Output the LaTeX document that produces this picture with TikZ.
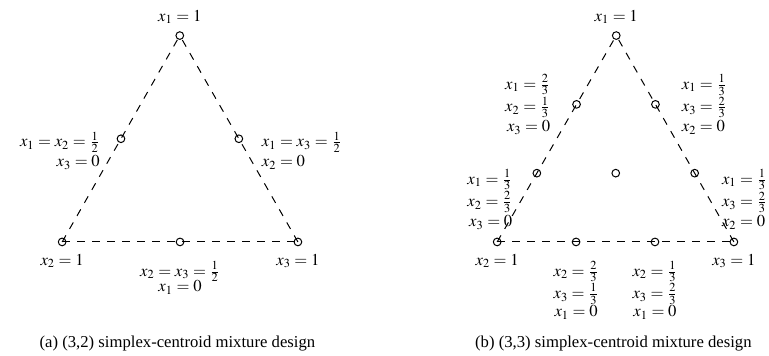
\documentclass[tikz,border=0pt]{standalone}
\usepackage{mathptmx}
\usepackage{fontspec}
\setmainfont{Liberation Serif}
\usetikzlibrary{calc}

\begin{document}
\begin{tikzpicture}[
    % Core styles: thin dashed sides, small open design points
    side/.style={line width=0.6pt, dash pattern=on 4.5pt off 4.5pt},
    design_pt/.style={circle, draw, line width=0.6pt, inner sep=0pt, minimum size=4.6pt},
    lbl/.style={inner sep=0pt, align=center},
    lbl_left/.style={inner sep=0pt, align=right},
    lbl_right/.style={inner sep=0pt, align=left},
    sub_caption/.style={inner sep=0pt}
  ]

  % Bounding box locked to the 769 x 356 aspect ratio
  \useasboundingbox (0, 0) rectangle (16.21, 7.50);

  % ---------------------------------------------------------
  % (a) (3,2) DESIGN: VERTICES AND DASHED SIDES
  % ---------------------------------------------------------
  \coordinate (a1) at (3.79, 6.75);
  \coordinate (a2) at (1.31, 2.40);
  \coordinate (a3) at (6.28, 2.40);

  \draw[side] (a2) -- (a1);
  \draw[side] (a3) -- (a1);
  \draw[side] (a2) -- (a3);

  \node[design_pt] (pa1) at (a1) {};
  \node[design_pt] (pa2) at (a2) {};
  \node[design_pt] (pa3) at (a3) {};
  \node[design_pt] (pa12) at ($(a1)!0.5!(a2)$) {};
  \node[design_pt] (pa13) at ($(a1)!0.5!(a3)$) {};
  \node[design_pt] (pa23) at ($(a2)!0.5!(a3)$) {};

  % Point labels
  \node[lbl, anchor=south] (la1) at ([yshift=2.4mm]pa1.center) {$x_1 = 1$};
  \node[lbl, anchor=north] (la2) at ([yshift=-2.5mm]pa2.center) {$x_2 = 1$};
  \node[lbl, anchor=north] (la3) at ([yshift=-2.5mm]pa3.center) {$x_3 = 1$};
  \node[lbl_left, anchor=north east] (la12) at ([xshift=-4.4mm, yshift=1.5mm]pa12.center)
    {$x_1 = x_2 = \frac{1}{2}$ \\ $x_3 = 0$};
  \node[lbl_right, anchor=north west] (la13) at ([xshift=4.8mm, yshift=1.5mm]pa13.center)
    {$x_1 = x_3 = \frac{1}{2}$ \\ $x_2 = 0$};
  \node[lbl, anchor=north] (la23) at ([yshift=-4.0mm]pa23.center)
    {$x_2 = x_3 = \frac{1}{2}$ \\[-2.5pt] $x_1 = 0$};

  \node[sub_caption] (cap_a) at (3.74, 0.25) {(a) (3,2) simplex-centroid mixture design};

  % ---------------------------------------------------------
  % (b) (3,3) DESIGN: VERTICES AND DASHED SIDES
  % ---------------------------------------------------------
  \coordinate (b1) at (12.99, 6.75);
  \coordinate (b2) at (10.48, 2.40);
  \coordinate (b3) at (15.47, 2.40);

  \draw[side] (b2) -- (b1);
  \draw[side] (b3) -- (b1);
  \draw[side] (b2) -- (b3);

  \node[design_pt] (pb1) at (b1) {};
  \node[design_pt] (pb2) at (b2) {};
  \node[design_pt] (pb3) at (b3) {};
  \node[design_pt] (pb112) at ($(b1)!1/3!(b2)$) {};
  \node[design_pt] (pb122) at ($(b1)!2/3!(b2)$) {};
  \node[design_pt] (pb113) at ($(b1)!1/3!(b3)$) {};
  \node[design_pt] (pb133) at ($(b1)!2/3!(b3)$) {};
  \node[design_pt] (pb223) at ($(b2)!1/3!(b3)$) {};
  \node[design_pt] (pb233) at ($(b2)!2/3!(b3)$) {};
  \node[design_pt] (pb123) at ($1/3*(b1)+1/3*(b2)+1/3*(b3)$) {};

  % Point labels
  \node[lbl, anchor=south] (lb1) at ([yshift=2.4mm]pb1.center) {$x_1 = 1$};
  \node[lbl, anchor=north] (lb2) at ([yshift=-2.5mm]pb2.center) {$x_2 = 1$};
  \node[lbl, anchor=north] (lb3) at ([yshift=-2.5mm]pb3.center) {$x_3 = 1$};
  \node[lbl_left, anchor=east] (lb112) at ([xshift=-5.5mm]pb112.center)
    {$x_1 = \frac{2}{3}$ \\ $x_2 = \frac{1}{3}$ \\ $x_3 = 0$};
  \node[lbl_right, anchor=west] (lb113) at ([xshift=5.5mm]pb113.center)
    {$x_1 = \frac{1}{3}$ \\ $x_3 = \frac{2}{3}$ \\ $x_2 = 0$};
  \node[lbl_left, anchor=east] (lb122) at ([xshift=-5.1mm, yshift=-5.5mm]pb122.center)
    {$x_1 = \frac{1}{3}$ \\ $x_2 = \frac{2}{3}$ \\ $x_3 = 0$};
  \node[lbl_right, anchor=west] (lb133) at ([xshift=5.7mm, yshift=-5.5mm]pb133.center)
    {$x_1 = \frac{1}{3}$ \\ $x_3 = \frac{2}{3}$ \\ $x_2 = 0$};
  \node[lbl, anchor=north] (lb223) at ([yshift=-4.0mm]pb223.center)
    {$x_2 = \frac{2}{3}$ \\ $x_3 = \frac{1}{3}$ \\[-1pt] $x_1 = 0$};
  \node[lbl, anchor=north] (lb233) at ([yshift=-4.0mm]pb233.center)
    {$x_2 = \frac{1}{3}$ \\ $x_3 = \frac{2}{3}$ \\[-1pt] $x_1 = 0$};

  \node[sub_caption] (cap_b) at (12.93, 0.25) {(b) (3,3) simplex-centroid mixture design};

\end{tikzpicture}
\end{document}
